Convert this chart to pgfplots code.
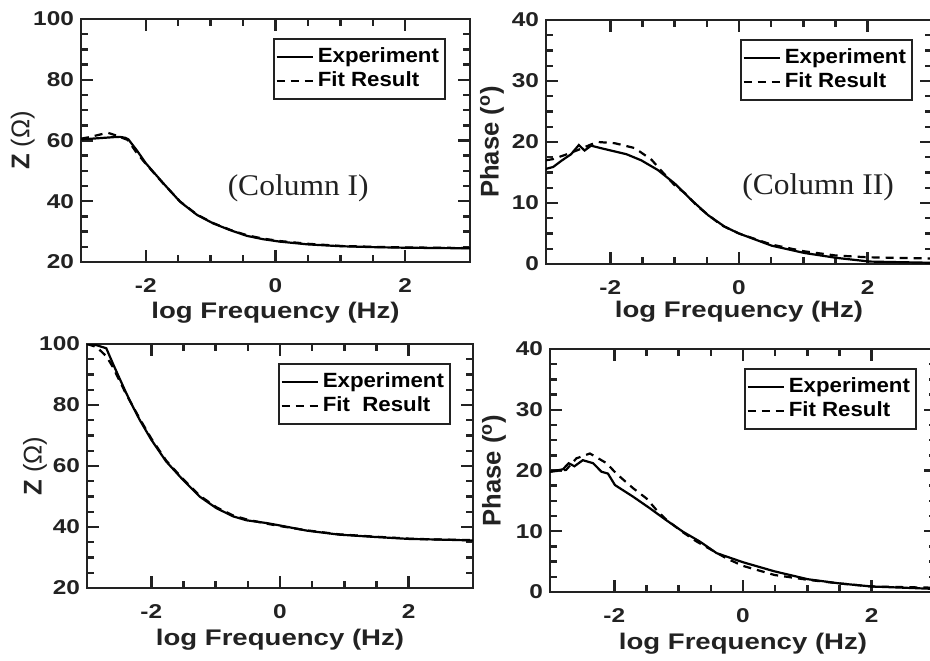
\documentclass[border=0pt]{standalone}
\usepackage{fontspec}
\usepackage{pgfplots}
\pgfplotsset{compat=1.18}
\setmainfont{Liberation Sans}
\newfontfamily\lab[FakeStretch=1.22]{Liberation Sans}
\newfontfamily\leg[FakeStretch=1.08]{Liberation Sans}
\newfontfamily\serifw[FakeStretch=1.05]{Liberation Serif}
\definecolor{axgray}{RGB}{34,34,34}
\pgfplotsset{
  panel/.style={
    scale only axis, xmin=-3, xmax=3, xtick={-2,0,2},
    minor x tick num=3, minor y tick num=3, tick align=inside,
    axis line style={line width=1.4pt, axgray},
    tick style={line width=1.2pt, axgray},
    major tick length=6pt, minor tick length=3.5pt,
    tick label style={font=\lab\bfseries\fontsize{10}{11}\selectfont, text=axgray},
    /pgf/number format/assume math mode=true,
    xticklabel style={yshift=-4.5pt},
    xlabel={log Frequency (Hz)},
    xlabel style={font=\lab\bfseries\fontsize{11.3}{12}\selectfont, text=axgray, anchor=center},
    ylabel style={font=\bfseries\fontsize{12.8}{14}\selectfont, text=axgray, anchor=center},
    legend cell align=left,
    legend style={draw=axgray, line width=1pt, at={(rel axis cs:1,1)}, anchor=north east,
      font=\leg\bfseries\fontsize{10.3}{11}\selectfont, inner xsep=1pt, inner ysep=2.5pt,
      row sep=-1pt},
    legend image code/.code={\draw[#1] (0pt,0pt) -- (18pt,0pt);},
  },
  exp/.style={black, line width=1.1pt},
  fit/.style={black, line width=1.1pt, dash pattern=on 4pt off 3pt},
}
\begin{document}
\begin{tikzpicture}

% top left: impedance
\begin{axis}[panel, at={(40.5pt,199pt)}, anchor=south west, width=194.5pt, height=121.5pt,
  ymin=20, ymax=100, ytick={20,40,60,80,100},
  ylabel={Z {\mdseries(Ω)}},
  xlabel style={at={(axis description cs:0.5,-0.21)}},
  ylabel style={at={(axis description cs:-0.15,0.5)}},
  legend style={xshift=-12pt, yshift=-9.5pt}]
\addplot[exp] coordinates {
(-3,60.4)(-2.9,60.5)(-2.7,60.8)(-2.5,61.1)(-2.4,61.2)(-2.32,60.9)(-2.27,60.4)
(-2.13,56.5)(-2,52.5)(-1.73,45.9)(-1.47,39.8)(-1.21,35.5)(-0.96,32.7)
(-0.7,30.5)(-0.44,28.6)(-0.19,27.5)(0.07,26.7)(0.5,25.8)(1,25.2)(1.5,24.9)
(2,24.7)(2.5,24.6)(3,24.5)};
\addlegendentry{Experiment}
\addplot[fit] coordinates {
(-3,60.6)(-2.85,61.2)(-2.68,62.1)(-2.58,62.5)(-2.48,61.8)(-2.38,61.0)(-2.28,60.2)
(-2.15,56.2)(-2,52.3)(-1.73,45.8)(-1.47,39.9)(-1.21,35.6)(-0.96,32.8)
(-0.7,30.6)(-0.44,28.8)(-0.19,27.7)(0.07,26.9)(0.5,26.0)(1,25.3)(1.5,25.0)
(2,24.8)(2.5,24.7)(3,24.6)};
\addlegendentry{Fit Result}
\node[font=\serifw\fontsize{15}{16}\selectfont, text=axgray] at (axis cs:0.35,44.3) {(Column I)};
\end{axis}

% top right: phase
\begin{axis}[panel, at={(273pt,198pt)}, anchor=south west, width=193pt, height=122pt,
  ymin=0, ymax=40, ytick={0,10,20,30,40},
  ylabel={Phase (\textsuperscript{o})},
  xlabel style={at={(axis description cs:0.5,-0.197)}},
  ylabel style={at={(axis description cs:-0.14,0.5)}},
  legend style={xshift=-9.5pt, yshift=-9.5pt}]
\addplot[exp] coordinates {
(-3,15.6)(-2.89,15.9)(-2.75,17.0)(-2.61,18.0)(-2.49,19.5)(-2.4,18.6)(-2.3,19.4)
(-2.15,19.0)(-1.99,18.6)(-1.75,18.0)(-1.52,17.0)(-1.26,15.4)(-1,13.2)
(-0.74,10.5)(-0.48,8.0)(-0.22,6.1)(0,5.0)(0.51,3.0)(1.02,1.8)(1.52,1.0)
(2.03,0.4)(2.5,0.3)(3,0.2)};
\addlegendentry{Experiment}
\addplot[fit] coordinates {
(-3,17.0)(-2.89,17.2)(-2.7,17.9)(-2.5,18.7)(-2.3,19.6)(-2.19,20.0)(-1.93,19.8)
(-1.62,19.0)(-1.36,17.1)(-1.2,15.2)(-1,12.9)(-0.84,11.6)(-0.64,9.4)(-0.28,6.4)
(0,5.0)(0.5,3.2)(1,2.1)(1.5,1.4)(2,1.1)(2.5,1.0)(3,0.9)};
\addlegendentry{Fit Result}
\node[font=\serifw\fontsize{15}{16}\selectfont, text=axgray] at (axis cs:1.23,12.6) {(Column II)};
\end{axis}

% bottom left: impedance
\begin{axis}[panel, at={(43.5pt,36pt)}, anchor=south west, width=193pt, height=122pt,
  ymin=20, ymax=100, ytick={20,40,60,80,100},
  ylabel={Z {\mdseries(Ω)}},
  xlabel style={at={(axis description cs:0.5,-0.213)}},
  ylabel style={at={(axis description cs:-0.135,0.5)}},
  legend style={xshift=-11pt, yshift=-9.5pt}]
\addplot[exp] coordinates {
(-3,100)(-2.85,99.6)(-2.7,98.6)(-2.6,93.7)(-2.5,89.0)(-2.39,83.9)(-2.3,80.0)
(-2.18,75.1)(-2,68.6)(-1.77,61.5)(-1.51,55.5)(-1.25,50.0)(-0.99,46.2)
(-0.73,43.5)(-0.52,42.2)(-0.21,41.3)(0,40.5)(0.42,38.8)(0.92,37.5)(1.43,36.8)
(2,36.1)(2.44,35.9)(3,35.6)};
\addlegendentry{Experiment}
\addplot[fit] coordinates {
(-3,100)(-2.85,99.0)(-2.7,96.0)(-2.6,92.5)(-2.5,88.2)(-2.39,83.5)(-2.18,75.5)
(-2,69.0)(-1.77,61.8)(-1.51,55.8)(-1.25,50.3)(-0.99,46.5)(-0.73,43.8)
(-0.52,42.5)(-0.21,41.1)(0,40.3)(0.42,38.9)(0.92,37.6)(1.43,36.9)(2,36.2)
(2.44,35.9)(3,35.7)};
\addlegendentry{Fit\ \ Result}
\end{axis}

% bottom right: phase
\begin{axis}[panel, at={(275pt,34pt)}, anchor=south west, width=193pt, height=121.5pt,
  ymin=0, ymax=40, ytick={0,10,20,30,40},
  ylabel={Phase (\textsuperscript{o})},
  xlabel style={at={(axis description cs:0.5,-0.213)}},
  ylabel style={at={(axis description cs:-0.145,0.5)}},
  legend style={xshift=-9.5pt, yshift=-9.5pt}]
\addplot[exp] coordinates {
(-3,19.8)(-2.8,20.2)(-2.71,21.2)(-2.62,20.7)(-2.49,21.7)(-2.33,21.2)(-2.2,19.8)
(-2.1,19.5)(-1.99,17.6)(-1.71,15.7)(-1.45,13.8)(-1.19,11.8)(-0.93,9.9)
(-0.67,8.3)(-0.41,6.4)(0,4.9)(0.49,3.4)(1.01,2.1)(1.51,1.4)(2.01,0.9)
(2.52,0.7)(3,0.5)};
\addlegendentry{Experiment}
\addplot[fit] coordinates {
(-3,19.8)(-2.75,20.1)(-2.59,22.0)(-2.38,22.8)(-2.12,21.2)(-1.97,19.5)
(-1.71,17.1)(-1.5,15.4)(-1.32,13.2)(-1.19,11.9)(-0.93,9.8)(-0.72,8.3)
(-0.25,5.5)(0,4.3)(0.49,2.8)(1.01,2.0)(1.51,1.4)(2.01,0.9)(2.52,0.8)(3,0.7)};
\addlegendentry{Fit Result}
\end{axis}

\pgfresetboundingbox
\path[use as bounding box] (0pt,0pt) rectangle (465pt,330pt);
\end{tikzpicture}
\end{document}
